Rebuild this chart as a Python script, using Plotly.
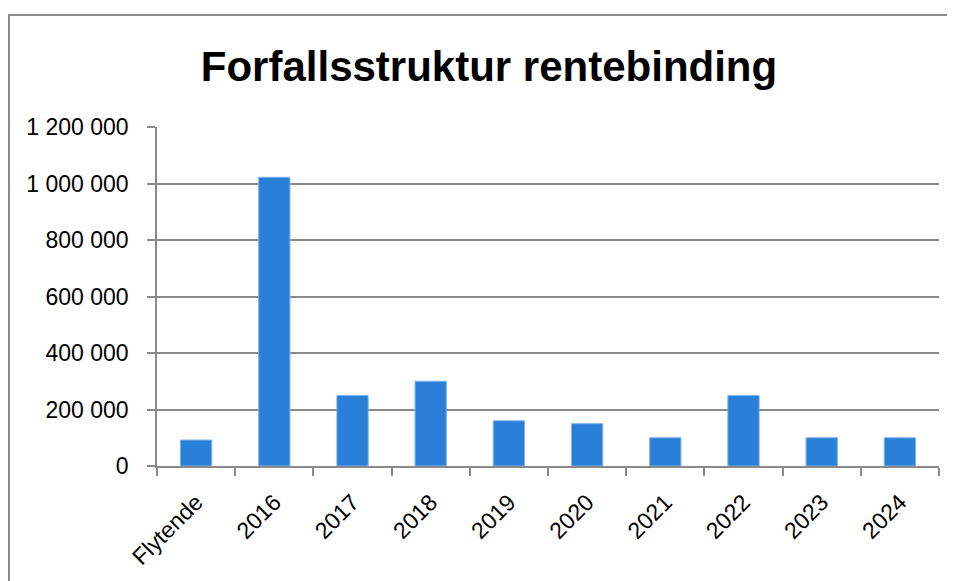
import plotly.graph_objects as go

categories = ["Flytende", "2016", "2017", "2018", "2019", "2020", "2021", "2022", "2023", "2024"]
values = [92000, 1022000, 250000, 300000, 160000, 150000, 100000, 250000, 100000, 100000]
y_ticks = [0, 200000, 400000, 600000, 800000, 1000000, 1200000]
y_tick_labels = ["0", "200 000", "400 000", "600 000", "800 000", "1 000 000", "1 200 000"]

# page body has an 8px margin; work in window coordinates and subtract it
OFF = 8
W, H = 955 - OFF, 581 - OFF
L, T = 157 - OFF, 127 - OFF
R = (955 - 939)
B = (581 - 466)
pw, ph = W - L - R, H - T - B

fig = go.Figure(go.Bar(
    x=categories, y=values,
    marker=dict(color="#2A7FD8", line=dict(color="#7FB2EA", width=1)),
    hoverinfo="x+y",
))

grid = "#8A8A8A"
FONT = "Liberation Sans, Arial, sans-serif"
fig.update_layout(
    width=W, height=H,
    margin=dict(l=L, r=R, t=T, b=B, autoexpand=False),
    paper_bgcolor="white", plot_bgcolor="white",
    bargap=0.6,
    showlegend=False,
    font=dict(family=FONT, size=23, color="black"),
    title=dict(
        text="<b>Forfallsstruktur rentebinding</b>",
        font=dict(family=FONT, size=42, color="black"),
        x=(489 - OFF) / W, xanchor="center",
        y=1 - (66 - OFF) / H, yanchor="middle",
    ),
    xaxis=dict(
        type="category",
        tickangle=-45,
        ticks="outside", ticklen=8, tickcolor=grid, tickwidth=1.5,
        tickson="boundaries",
        ticklabelstandoff=12,
        showline=True, linecolor=grid, linewidth=1.5,
        showgrid=False,
        tickfont=dict(size=23),
    ),
    yaxis=dict(
        range=[0, 1200000],
        tickvals=y_ticks, ticktext=y_tick_labels,
        ticks="outside", ticklen=8, tickcolor=grid, tickwidth=1.5,
        ticklabelstandoff=14,
        showline=True, linecolor=grid, linewidth=1.5,
        showgrid=True, gridcolor=grid, gridwidth=1.5,
        zeroline=False,
        tickfont=dict(size=23),
    ),
    shapes=[
        dict(type="line", xref="paper", yref="paper",
             x0=(8 - OFF - L) / pw, x1=(W + 5 - L) / pw,
             y0=(H - (15 - OFF) - B) / ph, y1=(H - (15 - OFF) - B) / ph,
             line=dict(color="#8C8C8C", width=2)),
        dict(type="line", xref="paper", yref="paper",
             x0=(9 - OFF - L) / pw, x1=(9 - OFF - L) / pw,
             y0=(H - (15 - OFF) - B) / ph, y1=(-10 - B) / ph,
             line=dict(color="#8C8C8C", width=2)),
    ],
)

fig.write_html("out.html")
